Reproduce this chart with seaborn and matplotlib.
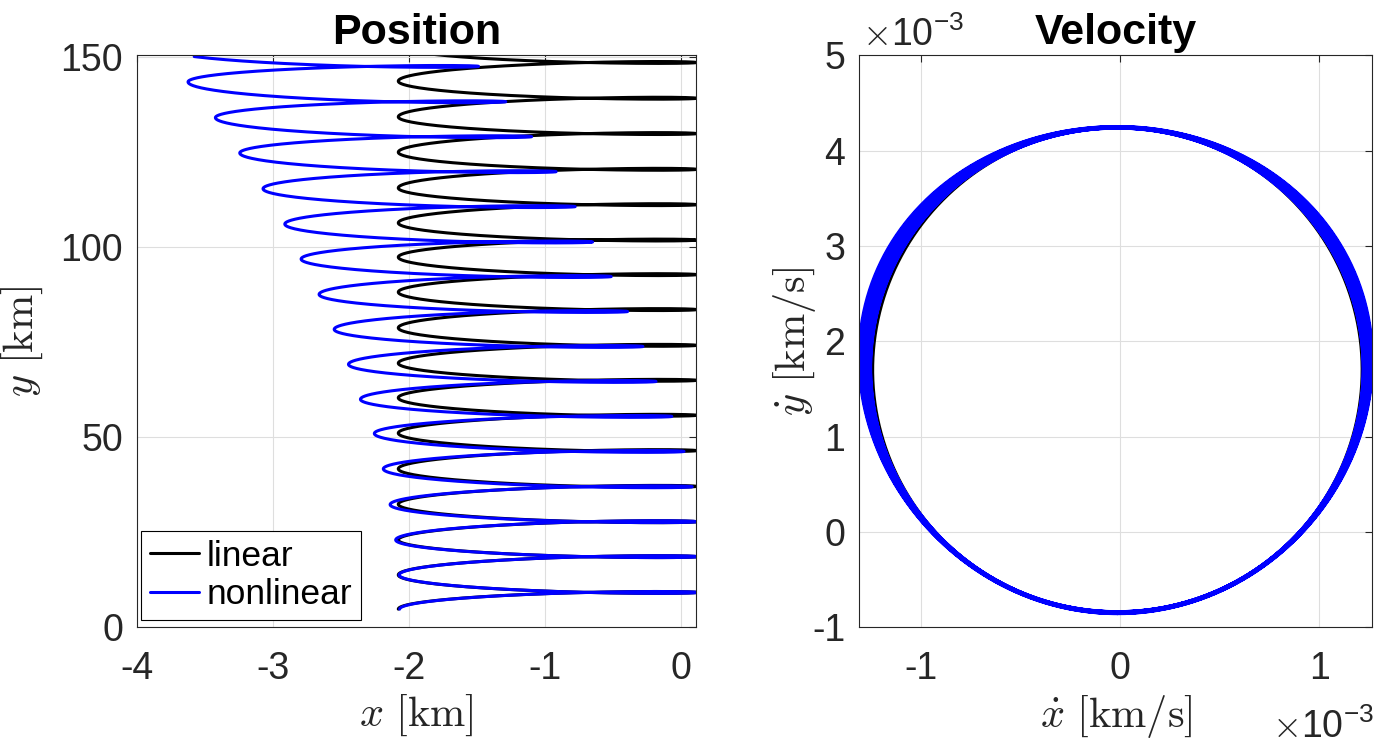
import numpy as np
import matplotlib
matplotlib.use("Agg")
import matplotlib.pyplot as plt
import seaborn as sns

# ---- position data [km] ----
# turning points of each loop: left turns ("turn") and right tips ("tip")
LIN_TURN_X = [-2.08, -2.08, -2.08, -2.08, -2.08, -2.08, -2.08, -2.08,
              -2.08, -2.08, -2.08, -2.08, -2.08, -2.08, -2.08, -2.08]
LIN_TURN_Y = [4.7, 13.7, 22.9, 32.3, 41.6, 51.0, 60.3, 69.4,
              78.7, 88.1, 97.3, 106.3, 115.5, 124.9, 134.2, 143.6]
LIN_TIP_X = [0.11, 0.11, 0.11, 0.11, 0.11, 0.11, 0.11, 0.11,
             0.11, 0.11, 0.11, 0.11, 0.11, 0.11, 0.11, 0.11]
LIN_TIP_Y = [9.1, 18.5, 27.7, 37.0, 46.4, 55.7, 64.9, 74.1,
             83.5, 92.7, 101.8, 111.1, 120.4, 129.8, 139.1, 148.5]
LIN_NEXT_TURN = (-2.08, 152.8)   # where the last leg is heading
LIN_END_X = -1.835               # last point of the run

NL_TURN_X = [-2.07, -2.074, -2.099, -2.140, -2.190, -2.256, -2.358, -2.446,
             -2.551, -2.662, -2.794, -2.914, -3.074, -3.245, -3.424, -3.625]
NL_TURN_Y = [4.7, 13.7, 22.9, 32.2, 41.6, 50.9, 59.9, 69.1,
             78.3, 87.5, 96.8, 106.0, 115.3, 124.7, 134.0, 143.4]
NL_TIP_X = [0.12, 0.12, 0.11, 0.08, 0.02, -0.07, -0.186, -0.282,
            -0.395, -0.515, -0.652, -0.78, -0.92, -1.10, -1.29, -1.49]
NL_TIP_Y = [9.1, 18.5, 27.7, 36.9, 46.2, 55.4, 64.6, 73.8,
            83.0, 92.2, 101.3, 110.6, 119.8, 129.0, 138.2, 147.5]
NL_NEXT_TURN = (-3.84, 152.5)
NL_END_X = -3.58

# ---- velocity data [1e-3 km/s]: extent of each loop ----
LIN_VDX = [-1.245, 1.215]
LIN_VDY = [-0.845, 4.245]
NL_VDX_MIN = [-1.255, -1.256, -1.258, -1.260, -1.263, -1.266, -1.270, -1.274,
              -1.278, -1.283, -1.288, -1.293, -1.298, -1.303, -1.308, -1.312]
NL_VDX_MAX = [1.220, 1.221, 1.223, 1.225, 1.228, 1.231, 1.234, 1.238,
              1.242, 1.246, 1.250, 1.254, 1.257, 1.260, 1.263, 1.266]
NL_VDY_MIN = [-0.836, -0.837, -0.838, -0.839, -0.840, -0.842, -0.843, -0.845,
              -0.846, -0.847, -0.849, -0.850, -0.852, -0.853, -0.855, -0.857]
NL_VDY_MAX = [4.236, 4.237, 4.238, 4.239, 4.240, 4.241, 4.242, 4.243,
              4.244, 4.245, 4.246, 4.247, 4.248, 4.249, 4.251, 4.253]

POS_XTICKS = [-4, -3, -2, -1, 0]
POS_YTICKS = [0, 50, 100, 150]
VEL_XTICKS = [-1, 0, 1]
VEL_YTICKS = [-1, 0, 1, 2, 3, 4, 5]

TIP_LOOP = 1.35  # how far the path folds back at the tips


def trace(turn_x, turn_y, tip_x, tip_y, next_turn, end_x, n=200):
    pts = []
    for i in range(len(tip_x)):
        pts.append((turn_x[i], turn_y[i], "turn"))
        pts.append((tip_x[i], tip_y[i], "tip"))
    pts.append((next_turn[0], next_turn[1], "turn"))
    s = np.linspace(0, np.pi, n)
    xs, ys = [], []
    for (x0, y0, kind), (x1, y1, _) in zip(pts[:-1], pts[1:]):
        fx = (1 - np.cos(s)) / 2
        if kind == "turn":
            fy = (s + TIP_LOOP * np.sin(s)) / np.pi
        else:
            fy = (s - TIP_LOOP * np.sin(s)) / np.pi
        xs.append(x0 + (x1 - x0) * fx)
        ys.append(y0 + (y1 - y0) * fy)
    keep = xs[-1] >= end_x
    xs[-1], ys[-1] = xs[-1][keep], ys[-1][keep]
    return np.concatenate(xs), np.concatenate(ys)


VEL_CX = (LIN_VDX[0] + LIN_VDX[1]) / 2
R0_L = VEL_CX - LIN_VDX[0]
R0_R = LIN_VDX[1] - VEL_CX


def vel_loop(xmin, xmax, ymin, ymax, n=400):
    phi = np.linspace(0, 2 * np.pi, n)
    cy, ry = (ymin + ymax) / 2, (ymax - ymin) / 2
    grow = 1 - np.cos(phi)
    right = VEL_CX + np.sin(phi) * (R0_R + (xmax - VEL_CX - R0_R) * grow)
    left = VEL_CX + np.sin(phi) * (R0_L + (VEL_CX - xmin - R0_L) * grow)
    x = np.where(np.sin(phi) >= 0, right, left)
    y = cy - ry * np.cos(phi)
    return x, y


sns.set_theme(style="white")
plt.rcParams.update({
    "font.family": ["Liberation Sans", "DejaVu Sans"],
    "mathtext.fontset": "cm",
    "axes.unicode_minus": False,
    "axes.edgecolor": "#262626",
    "axes.linewidth": 0.8,
    "text.color": "#262626",
})

W, H = 1387, 747
fig = plt.figure(figsize=(W / 100, H / 100), dpi=100)
ax1 = fig.add_axes([137 / W, 1 - 627 / H, (696.3 - 137) / W, (627 - 55.3) / H])
ax2 = fig.add_axes([859.3 / W, 1 - 627.3 / H, (1372.3 - 859.3) / W, (627.3 - 55.3) / H])

# position
lx, ly = trace(LIN_TURN_X, LIN_TURN_Y, LIN_TIP_X, LIN_TIP_Y, LIN_NEXT_TURN, LIN_END_X)
nx, ny = trace(NL_TURN_X, NL_TURN_Y, NL_TIP_X, NL_TIP_Y, NL_NEXT_TURN, NL_END_X)
sns.lineplot(x=lx, y=ly, sort=False, estimator=None, color="black", lw=2.2, ax=ax1, label="linear")
sns.lineplot(x=nx, y=ny, sort=False, estimator=None, color="#0000ff", lw=2.2, ax=ax1, label="nonlinear")

# velocity
vx, vy = vel_loop(LIN_VDX[0], LIN_VDX[1], LIN_VDY[0], LIN_VDY[1])
sns.lineplot(x=vx, y=vy, sort=False, estimator=None, color="black", lw=2.2, ax=ax2)
loops = [vel_loop(a, b, c, d) for a, b, c, d in zip(NL_VDX_MIN, NL_VDX_MAX, NL_VDY_MIN, NL_VDY_MAX)]
bx = np.concatenate([p[0] for p in loops])
by = np.concatenate([p[1] for p in loops])
sns.lineplot(x=bx, y=by, sort=False, estimator=None, color="#0000ff", lw=2.2, ax=ax2)

for ax in (ax1, ax2):
    ax.grid(True, color="#dedede", lw=0.8)
    ax.tick_params(direction="in", top=True, right=True, length=5, width=0.8,
                   colors="#262626", labelsize=27, pad=10)
    ax.tick_params(axis="x", pad=17)
    for sp in ax.spines.values():
        sp.set_visible(True)
    ax.set_axisbelow(True)

ax1.set_xlim(-4, 0.11)
ax1.set_ylim(0, 150.4)
ax1.set_xticks(POS_XTICKS)
ax1.set_yticks(POS_YTICKS)
ax2.set_xlim(min(NL_VDX_MIN), max(NL_VDX_MAX))
ax2.set_ylim(-1, 5)
ax2.set_xticks(VEL_XTICKS)
ax2.set_yticks(VEL_YTICKS)

ax1.set_title("Position", fontsize=31, fontweight="bold", color="black", pad=8)
ax2.set_title("Velocity", fontsize=31, fontweight="bold", color="black", pad=8)

ax1.set_xlabel(r"$x\ [\mathrm{km}]$", fontsize=30.5)
ax1.set_ylabel(r"$y\ [\mathrm{km}]$", fontsize=30.5)
ax2.set_xlabel(r"$\dot{x}\ [\mathrm{km/s}]$", fontsize=30.5)
ax2.set_ylabel(r"$\dot{y}\ [\mathrm{km/s}]$", fontsize=30.5)
ax1.xaxis.set_label_coords(0.5, -0.115)
ax2.xaxis.set_label_coords(0.5, -0.115)
ax1.yaxis.set_label_coords(-0.165, 0.5)
ax2.yaxis.set_label_coords(-0.08, 0.5)

leg = ax1.legend(loc="lower left", bbox_to_anchor=(0.0072, 0.0122), borderaxespad=0,
                 fontsize=25.5, frameon=True, fancybox=False, framealpha=1,
                 edgecolor="black", handlelength=1.4, handletextpad=0.2,
                 labelspacing=0.15, borderpad=0.25)
leg.get_frame().set_linewidth(0.8)
for t in leg.get_texts():
    t.set_color("black")

offset_label = r"$\times\mathregular{10^{-3}}$"
fig.text(862 / W, 1 - 46 / H, offset_label, fontsize=27, ha="left", va="baseline")
fig.text(1272 / W, 1 - 738 / H, offset_label, fontsize=27, ha="left", va="baseline")

fig.savefig("out.png", dpi=100)
